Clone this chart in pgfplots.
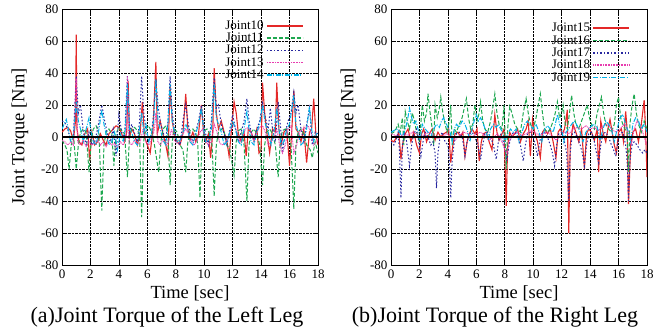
\documentclass[border=0pt]{standalone}
\usepackage{pgfplots}
\pgfplotsset{compat=1.18}
\usepackage{fontspec}
\setmainfont{Liberation Serif}
\definecolor{cA}{RGB}{228,40,40}
\definecolor{cB}{RGB}{30,168,80}
\definecolor{cC}{RGB}{40,40,160}
\definecolor{cD}{RGB}{232,60,175}
\definecolor{cE}{RGB}{0,178,232}
\pgfplotsset{
  jt/.style={
    scale only axis, width=256pt, height=256pt,
    xmin=0, xmax=18, ymin=-80, ymax=80,
    xtick={0,2,...,18}, ytick={-80,-60,...,80},
    grid=major, major grid style={black, densely dotted, line width=0.6pt},
    tick align=inside, major tick length=4pt,
    xtick pos=both, ytick pos=both,
    axis line style={black, line width=0.8pt},
    tick style={black, line width=0.6pt},
    /pgf/number format/assume math mode=true,
    tick label style={font=\fontsize{13}{15}\selectfont},
    xticklabel style={yshift=-1pt},
    xlabel style={at={(axis description cs:0.5,-0.109)}, anchor=center, font=\fontsize{18.5}{21}\selectfont},
    ylabel style={at={(axis description cs:-0.164,0.5)}, anchor=center, font=\fontsize{18.5}{21}\selectfont},
    xlabel={Time [sec]}, ylabel={Joint Torque [Nm]},
    legend style={draw=none, fill=none, font=\fontsize{13}{14}\selectfont,
      nodes={inner sep=0.5pt}, row sep=1.2pt, column sep=2pt},
  },
  sA/.style={color=cA, solid, line width=1.1pt},
  sB/.style={color=cB, line width=1pt, dash pattern=on 4pt off 2pt},
  sC/.style={color=cC, line width=1pt, dash pattern=on 1.5pt off 2pt},
  sD/.style={color=cD, line width=1pt, dash pattern=on 0.8pt off 0.8pt},
  sE/.style={color=cE, line width=1pt, dash pattern=on 5pt off 1.5pt on 1pt off 1.5pt},
}
\begin{document}
\begin{tikzpicture}
\useasboundingbox (0,0) rectangle (667pt,331pt);
\begin{axis}[jt, at={(62pt,66pt)}, anchor=south west,
  legend plot pos=right, legend cell align=right,
  legend image code/.code={\draw[#1, line width=1.6pt] (0pt,0pt) -- (36pt,0pt);},
  legend style={at={(axis description cs:0.957,0.965)}, anchor=north east}]
\addplot[sA] coordinates {(0,3)(0.2,5)(0.4,6)(0.6,4)(0.8,-2)(0.95,10)(1.0,64)(1.05,5)(1.2,-3)(1.4,-5)(1.6,2)(1.8,5)(1.95,-15)(2.1,3)(2.3,-5)(2.5,-3)(2.7,2)(2.9,-2)(3.1,-5)(3.3,2)(3.5,4)(3.8,7)(4.0,6)(4.2,2)(4.4,-3)(4.55,3)(4.65,35)(4.75,0)(4.9,5)(5.1,2)(5.3,-5)(5.5,3)(5.65,22)(5.8,0)(6.0,-5)(6.2,-10)(6.4,5)(6.6,47)(6.7,2)(6.9,10)(7.1,2)(7.3,-5)(7.45,-12)(7.6,32)(7.75,10)(7.9,2)(8.1,-3)(8.3,-5)(8.5,2)(8.7,27)(8.85,5)(9.0,-2)(9.2,3)(9.4,-3)(9.6,2)(9.8,20)(9.95,3)(10.1,-3)(10.3,2)(10.45,-13)(10.6,3)(10.7,43)(10.85,15)(11.0,5)(11.2,10)(11.4,3)(11.6,-3)(11.75,-12)(11.9,3)(12.1,22)(12.25,15)(12.4,2)(12.6,-3)(12.8,3)(12.95,-12)(13.1,5)(13.3,3)(13.5,-2)(13.7,5)(13.85,-10)(14.0,-8)(14.1,34)(14.25,15)(14.4,3)(14.6,-10)(14.8,5)(15.0,3)(15.1,34)(15.25,5)(15.4,-5)(15.6,3)(15.8,5)(16.0,-18)(16.15,3)(16.3,29)(16.45,5)(16.6,3)(16.8,-3)(17.0,5)(17.2,-16)(17.4,3)(17.55,5)(17.7,24)(17.85,2)(18,-5)};
\addlegendentry{Joint10}
\addplot[sB] coordinates {(0,-2)(0.2,-5)(0.35,-8)(0.5,-20)(0.65,-5)(0.8,2)(1.0,-20)(1.15,-5)(1.3,3)(1.5,5)(1.7,3)(1.9,-22)(2.05,-2)(2.2,5)(2.4,7)(2.6,2)(2.8,-46)(2.95,-5)(3.1,3)(3.3,5)(3.5,2)(3.65,-18)(3.8,2)(4.0,6)(4.2,4)(4.4,2)(4.6,-25)(4.75,0)(4.9,5)(5.1,6)(5.3,4)(5.45,2)(5.6,-50)(5.75,-2)(5.9,5)(6.1,7)(6.3,3)(6.5,-5)(6.8,-22)(6.95,-3)(7.1,5)(7.3,7)(7.45,2)(7.6,-30)(7.75,-3)(7.9,5)(8.1,3)(8.3,-5)(8.5,-8)(8.7,-22)(8.85,-3)(9.0,4)(9.2,5)(9.4,3)(9.55,-5)(9.7,-38)(9.85,-3)(10.0,4)(10.2,5)(10.4,2)(10.55,-5)(10.7,-37)(10.85,-5)(11.0,3)(11.2,5)(11.4,3)(11.6,-5)(11.8,-8)(12.1,-24)(12.25,-3)(12.4,4)(12.6,5)(12.8,-5)(13.0,-40)(13.15,-5)(13.3,3)(13.5,5)(13.7,2)(13.9,-5)(14.1,-30)(14.25,-5)(14.4,3)(14.6,5)(14.8,2)(15.0,-5)(15.2,-25)(15.35,-3)(15.5,4)(15.7,5)(15.9,2)(16.1,-5)(16.3,-45)(16.45,-5)(16.6,3)(16.8,5)(17.0,2)(17.2,-5)(17.45,-8)(17.6,-13)(17.8,-3)(18,-10)};
\addlegendentry{Joint11}
\addplot[sC] coordinates {(0,10)(0.2,9)(0.4,5)(0.6,-2)(0.8,0)(1.0,38)(1.15,15)(1.3,20)(1.5,3)(1.7,-5)(1.9,3)(2.1,-5)(2.3,-3)(2.5,5)(2.8,20)(3.0,10)(3.2,2)(3.4,-3)(3.6,5)(3.8,-12)(4.0,14)(4.2,3)(4.4,0)(4.6,38)(4.75,3)(4.9,8)(5.1,2)(5.3,-3)(5.45,10)(5.6,38)(5.75,15)(5.9,5)(6.1,-3)(6.3,2)(6.45,15)(6.6,36)(6.75,20)(6.9,10)(7.1,3)(7.3,-2)(7.45,10)(7.6,38)(7.75,15)(7.9,5)(8.1,-3)(8.3,-5)(8.5,10)(8.7,20)(8.85,10)(9.0,2)(9.2,-3)(9.4,3)(9.6,10)(9.8,20)(9.95,8)(10.1,2)(10.3,-5)(10.5,10)(10.7,37)(10.85,18)(11.0,20)(11.2,8)(11.4,2)(11.6,-5)(11.8,5)(12.0,14)(12.2,5)(12.4,-3)(12.6,3)(12.8,10)(13.0,24)(13.15,10)(13.3,3)(13.5,-3)(13.7,5)(13.9,10)(14.1,21)(14.3,12)(14.5,5)(14.65,18)(14.8,5)(15.0,-3)(15.2,22)(15.35,8)(15.5,-10)(15.7,3)(15.9,10)(16.1,15)(16.3,28)(16.45,15)(16.6,20)(16.8,5)(17.0,-3)(17.2,8)(17.4,18)(17.6,-5)(17.8,3)(18,2)};
\addlegendentry{Joint12}
\addplot[sD] coordinates {(0,-2)(0.2,-3)(0.4,-5)(0.6,-3)(0.8,-5)(1.0,37)(1.1,-3)(1.3,-5)(1.5,-2)(1.7,-6)(1.9,-3)(2.1,-5)(2.3,-4)(2.5,-2)(2.7,-5)(2.9,-3)(3.1,-6)(3.3,-3)(3.5,-5)(3.7,-4)(3.9,-7)(4.1,-3)(4.3,-5)(4.5,0)(4.6,38)(4.7,-3)(4.9,-5)(5.1,-2)(5.3,-5)(5.5,-3)(5.7,5)(5.9,-3)(6.1,-5)(6.3,-2)(6.5,5)(6.6,15)(6.75,-3)(6.9,-5)(7.1,-2)(7.3,-5)(7.5,-3)(7.7,5)(7.9,-2)(8.1,-4)(8.3,-3)(8.5,2)(8.7,5)(8.9,2)(9.1,-3)(9.3,-5)(9.5,-2)(9.7,3)(9.9,5)(10.1,-3)(10.3,-5)(10.5,-3)(10.7,8)(10.9,3)(11.1,-4)(11.3,-5)(11.5,-3)(11.7,0)(11.9,5)(12.1,8)(12.3,3)(12.5,-3)(12.7,0)(12.9,5)(13.1,6)(13.3,3)(13.5,-2)(13.7,3)(13.9,6)(14.1,7)(14.3,3)(14.5,-5)(14.7,-3)(14.9,0)(15.1,5)(15.3,-5)(15.5,-10)(15.7,-5)(15.9,5)(16.1,7)(16.3,-10)(16.5,-5)(16.7,3)(16.9,5)(17.1,6)(17.3,7)(17.5,3)(17.7,-5)(17.9,-3)(18,-2)};
\addlegendentry{Joint13}
\addplot[sE] coordinates {(0,5)(0.15,8)(0.3,11)(0.45,5)(0.6,-3)(0.8,0)(1.0,22)(1.15,10)(1.3,5)(1.5,-3)(1.7,5)(1.9,12)(2.05,3)(2.2,-3)(2.4,-5)(2.6,5)(2.8,17)(2.95,8)(3.1,2)(3.3,-5)(3.5,-3)(3.7,3)(3.9,-8)(4.1,2)(4.3,-3)(4.45,5)(4.6,33)(4.75,5)(4.9,3)(5.1,-3)(5.3,-5)(5.45,5)(5.6,15)(5.75,3)(5.9,8)(6.1,-3)(6.3,3)(6.45,10)(6.6,36)(6.75,10)(6.9,5)(7.1,-2)(7.3,-5)(7.45,8)(7.6,33)(7.75,10)(7.9,3)(8.1,-3)(8.3,-2)(8.5,3)(8.7,8)(8.85,5)(9.0,-3)(9.2,-5)(9.4,2)(9.6,8)(9.8,18)(9.95,5)(10.1,-3)(10.3,-2)(10.5,5)(10.7,33)(10.85,12)(11.0,8)(11.2,3)(11.4,-5)(11.6,-3)(11.8,3)(12.0,10)(12.2,5)(12.4,-3)(12.6,-5)(12.8,5)(13.0,16)(13.15,5)(13.3,-3)(13.5,-5)(13.7,3)(13.9,8)(14.1,20)(14.3,8)(14.5,3)(14.7,-5)(14.9,3)(15.1,18)(15.25,5)(15.4,-5)(15.6,-3)(15.8,5)(16.0,8)(16.3,26)(16.45,8)(16.6,3)(16.8,-5)(17.0,-3)(17.2,5)(17.4,19)(17.55,5)(17.7,-3)(17.9,2)(18,3)};
\addlegendentry{Joint14}
\addplot[black, line width=1.2pt, forget plot] coordinates {(0,0)(18,0)};
\end{axis}
\begin{axis}[jt, at={(391pt,66pt)}, anchor=south west,
  legend plot pos=right, legend cell align=right,
  legend image code/.code={\draw[#1, line width=1.6pt] (0pt,0pt) -- (36pt,0pt);},
  legend style={at={(axis description cs:0.947,0.955)}, anchor=north east}]
\addplot[sA] coordinates {(0,-2)(0.2,-3)(0.4,0)(0.55,3)(0.7,-14)(0.85,-3)(1.0,2)(1.2,5)(1.4,-3)(1.6,3)(1.8,-5)(2.0,-10)(2.15,2)(2.3,5)(2.5,-3)(2.7,2)(2.9,5)(3.1,-2)(3.3,3)(3.5,0)(3.7,2)(3.9,3)(4.05,5)(4.2,-16)(4.35,-5)(4.5,2)(4.7,3)(4.9,0)(5.05,3)(5.2,-12)(5.35,-3)(5.5,2)(5.7,5)(5.9,2)(6.05,5)(6.2,-15)(6.35,-3)(6.5,2)(6.7,3)(6.9,-3)(7.1,-8)(7.3,14)(7.45,3)(7.6,-2)(7.8,2)(7.95,5)(8.1,-43)(8.2,-5)(8.35,3)(8.5,0)(8.7,2)(8.9,5)(9.1,-3)(9.3,2)(9.5,5)(9.65,10)(9.8,-12)(9.95,11)(10.1,3)(10.3,-3)(10.5,-13)(10.65,3)(10.8,5)(11.0,2)(11.2,5)(11.4,-3)(11.6,-13)(11.75,3)(11.9,5)(12.05,2)(12.2,5)(12.4,17)(12.5,-60)(12.6,-5)(12.8,8)(13.0,3)(13.2,-3)(13.4,5)(13.6,-20)(13.75,2)(13.9,5)(14.1,3)(14.3,-2)(14.5,5)(14.6,-22)(14.75,10)(14.9,3)(15.1,-3)(15.25,5)(15.4,11)(15.55,3)(15.7,-5)(15.85,-10)(16.0,3)(16.2,5)(16.35,-3)(16.5,16)(16.6,5)(16.7,-42)(16.85,-5)(17.0,3)(17.2,5)(17.4,-3)(17.6,8)(17.8,23)(17.9,5)(18,-25)};
\addlegendentry{Joint15}
\addplot[sB] coordinates {(0,2)(0.2,3)(0.35,5)(0.5,8)(0.65,3)(0.8,12)(0.9,-5)(1.0,16)(1.15,10)(1.3,5)(1.5,15)(1.65,10)(1.8,3)(2.0,-3)(2.2,20)(2.35,10)(2.5,15)(2.6,27)(2.75,15)(2.9,5)(3.0,-5)(3.1,20)(3.25,12)(3.4,18)(3.5,25)(3.65,15)(3.8,8)(3.95,3)(4.1,10)(4.2,20)(4.3,-5)(4.45,5)(4.6,3)(4.8,8)(5.0,12)(5.15,18)(5.3,24)(5.45,12)(5.6,5)(5.75,8)(5.9,20)(6.05,10)(6.2,15)(6.3,22)(6.45,10)(6.6,5)(6.8,3)(7.0,10)(7.15,18)(7.3,27)(7.45,15)(7.6,8)(7.8,5)(7.95,20)(8.1,-20)(8.2,5)(8.35,19)(8.5,15)(8.7,8)(8.9,5)(9.1,3)(9.3,15)(9.5,24)(9.65,15)(9.8,8)(10.0,5)(10.2,12)(10.35,20)(10.5,27)(10.65,15)(10.8,5)(11.0,3)(11.2,5)(11.4,10)(11.55,15)(11.7,22)(11.85,12)(12.0,15)(12.1,20)(12.25,8)(12.4,5)(12.55,15)(12.7,26)(12.85,15)(13.0,8)(13.2,5)(13.4,10)(13.6,15)(13.8,20)(13.95,12)(14.1,8)(14.3,5)(14.5,15)(14.65,20)(14.8,25)(14.95,15)(15.1,8)(15.3,5)(15.5,3)(15.7,8)(15.85,20)(16.0,25)(16.15,12)(16.3,8)(16.45,5)(16.6,3)(16.7,-22)(16.8,8)(16.95,20)(17.1,27)(17.25,15)(17.4,8)(17.6,3)(17.8,10)(18,5)};
\addlegendentry{Joint16}
\addplot[sC] coordinates {(0,-3)(0.2,-5)(0.35,-2)(0.5,3)(0.6,-10)(0.7,-38)(0.8,-5)(0.95,3)(1.1,-3)(1.3,-18)(1.45,-5)(1.6,2)(1.8,5)(1.95,-3)(2.1,-12)(2.25,-3)(2.4,3)(2.6,0)(2.8,-5)(2.95,-3)(3.1,-10)(3.2,-32)(3.3,-10)(3.45,0)(3.6,3)(3.8,-3)(4.0,-5)(4.1,-15)(4.2,-38)(4.3,-15)(4.45,-3)(4.6,2)(4.8,3)(5.0,0)(5.1,-5)(5.2,-12)(5.35,-3)(5.5,2)(5.7,3)(5.9,0)(6.1,-5)(6.3,-14)(6.45,-5)(6.6,2)(6.8,3)(7.0,0)(7.2,-5)(7.4,-14)(7.55,-3)(7.7,2)(7.9,-3)(8.05,-10)(8.15,-15)(8.3,-5)(8.5,2)(8.7,3)(8.9,0)(9.1,-5)(9.3,-15)(9.45,-5)(9.6,2)(9.8,3)(10.0,0)(10.15,-5)(10.3,-12)(10.45,-3)(10.6,2)(10.8,3)(11.0,0)(11.2,-5)(11.35,-10)(11.5,-18)(11.65,-5)(11.8,2)(12.0,3)(12.2,-3)(12.35,-10)(12.5,-40)(12.6,-10)(12.75,2)(12.9,3)(13.1,0)(13.3,-5)(13.45,-10)(13.6,-18)(13.75,-5)(13.9,2)(14.1,3)(14.3,-3)(14.45,-10)(14.6,-16)(14.75,-5)(14.9,2)(15.1,3)(15.3,0)(15.5,-5)(15.65,-8)(15.8,-12)(15.95,-3)(16.1,2)(16.3,3)(16.5,-5)(16.6,-15)(16.7,-40)(16.8,-15)(16.95,-5)(17.1,-3)(17.3,-5)(17.5,-8)(17.7,-10)(17.85,-8)(18,-10)};
\addlegendentry{Joint17}
\addplot[sD] coordinates {(0,2)(0.3,1)(0.6,0)(0.9,2)(1.2,1)(1.5,3)(1.8,2)(2.1,0)(2.4,2)(2.7,3)(3.0,1)(3.3,-1)(3.6,0)(3.9,2)(4.2,1)(4.5,-2)(4.8,1)(5.1,3)(5.4,2)(5.7,0)(6.0,2)(6.3,3)(6.6,1)(6.9,-2)(7.2,0)(7.5,2)(7.8,-3)(8.0,-8)(8.15,-10)(8.3,-3)(8.6,2)(8.9,3)(9.2,1)(9.5,2)(9.8,4)(10.1,3)(10.4,1)(10.7,2)(11.0,3)(11.3,1)(11.6,-2)(11.9,1)(12.2,3)(12.5,2)(12.8,5)(13.1,6)(13.4,5)(13.7,7)(14.0,5)(14.3,6)(14.6,4)(14.9,7)(15.2,8)(15.5,5)(15.8,3)(16.1,5)(16.4,8)(16.7,3)(16.9,-5)(17.1,5)(17.3,10)(17.5,8)(17.7,3)(17.9,-3)(18,-5)};
\addlegendentry{Joint18}
\addplot[sE] coordinates {(0,3)(0.2,4)(0.4,5)(0.6,3)(0.8,0)(1.0,5)(1.15,10)(1.3,18)(1.45,12)(1.6,8)(1.75,10)(1.9,5)(2.05,-2)(2.2,8)(2.4,5)(2.6,3)(2.8,0)(3.0,5)(3.2,8)(3.4,6)(3.55,10)(3.7,12)(3.85,9)(4.0,6)(4.15,3)(4.3,-3)(4.45,5)(4.6,8)(4.8,6)(5.0,10)(5.2,8)(5.4,3)(5.55,-3)(5.7,5)(5.85,10)(6.0,14)(6.15,10)(6.3,12)(6.5,8)(6.7,3)(6.85,-2)(7.0,5)(7.2,8)(7.4,6)(7.55,8)(7.7,5)(7.85,3)(8.0,-3)(8.2,2)(8.4,5)(8.6,3)(8.8,5)(9.0,-3)(9.2,3)(9.4,8)(9.6,10)(9.8,7)(10.0,5)(10.2,8)(10.4,3)(10.6,-3)(10.8,5)(11.0,7)(11.2,5)(11.4,3)(11.55,8)(11.7,14)(11.85,8)(12.0,5)(12.15,-3)(12.3,3)(12.5,5)(12.7,8)(12.9,10)(13.1,7)(13.3,3)(13.5,-3)(13.7,3)(13.9,5)(14.1,7)(14.3,8)(14.5,6)(14.7,-2)(14.9,5)(15.1,10)(15.3,8)(15.5,5)(15.7,-3)(15.9,5)(16.1,12)(16.3,14)(16.5,8)(16.7,3)(16.85,-3)(17.0,8)(17.2,12)(17.4,10)(17.6,5)(17.8,8)(18,3)};
\addlegendentry{Joint19}
\addplot[black, line width=1.2pt, forget plot] coordinates {(0,0)(18,0)};
\end{axis}
\node[font=\fontsize{22}{25}\selectfont] at (167pt,14pt) {(a)Joint Torque of the Left Leg};
\node[font=\fontsize{22}{25}\selectfont] at (495pt,14pt) {(b)Joint Torque of the Right Leg};
\end{tikzpicture}
\end{document}
